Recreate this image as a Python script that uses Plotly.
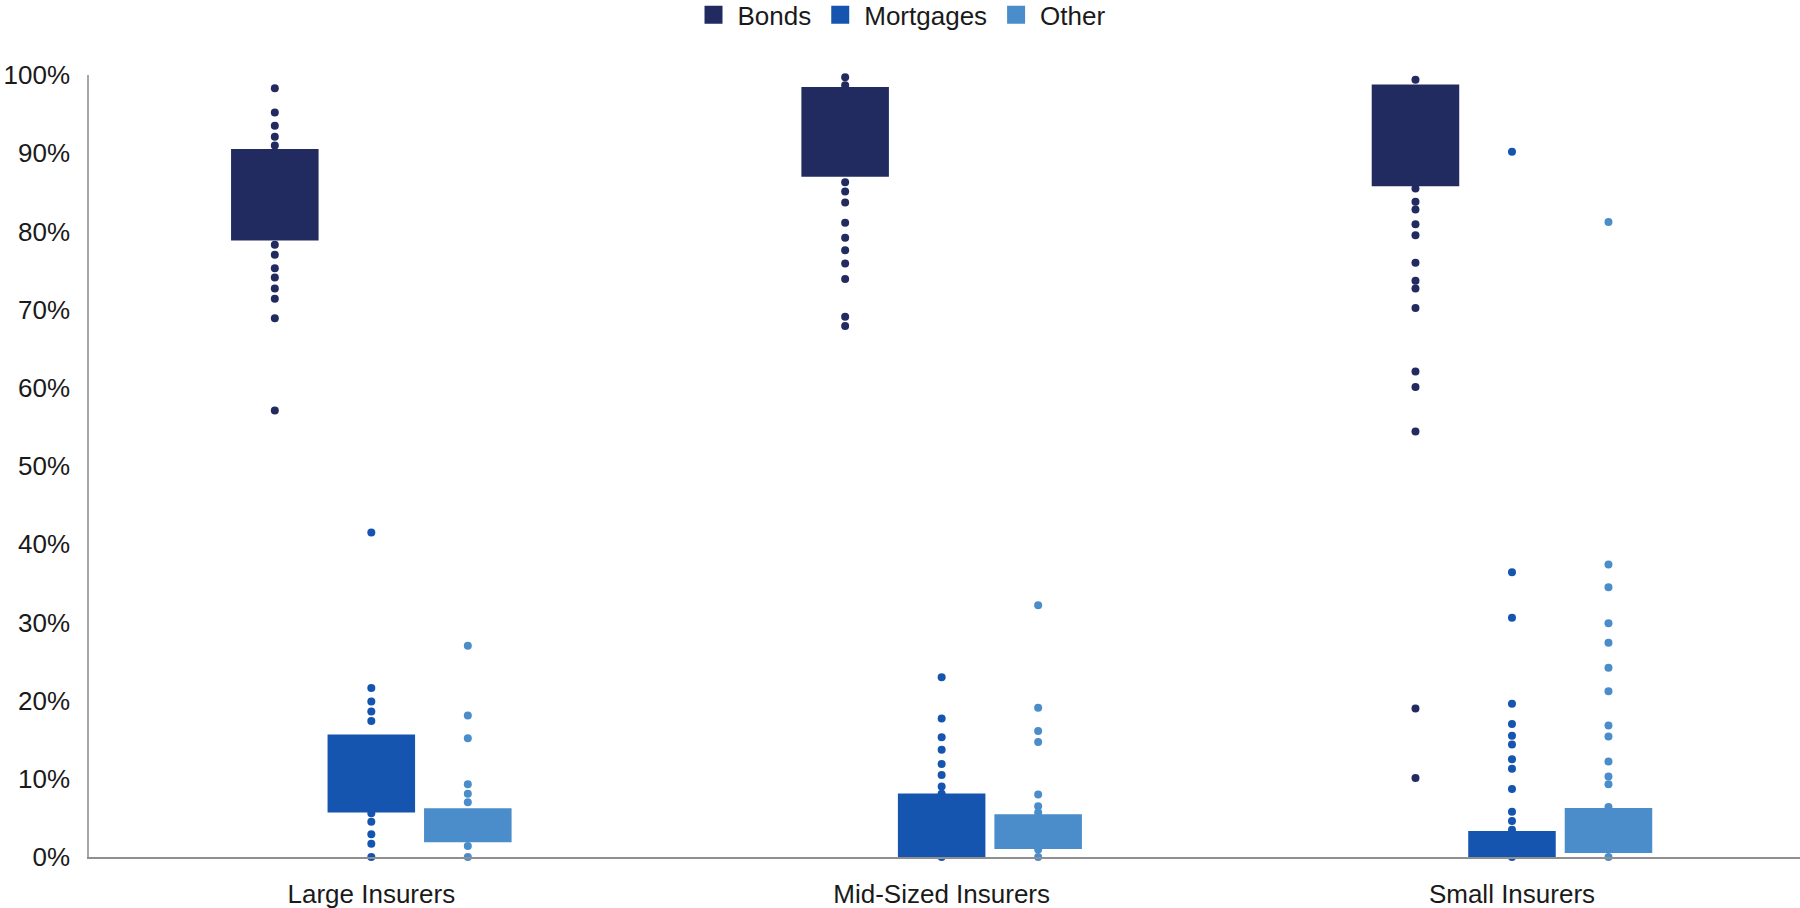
import plotly.graph_objects as go

# ---------------- data ----------------
categories = ["Large Insurers", "Mid-Sized Insurers", "Small Insurers"]
series_names = ["Bonds", "Mortgages", "Other"]

# box (interquartile) ranges per category
bonds_q1 = [0.7885, 0.8699, 0.8578]
bonds_q3 = [0.9053, 0.9847, 0.9877]
mort_q1 = [0.0568, 0.0, 0.0]
mort_q3 = [0.1566, 0.0811, 0.0334]
other_q1 = [0.0188, 0.0102, 0.0051]
other_q3 = [0.0623, 0.0546, 0.0627]

# individual insurer observations (visible dots)
bonds_large = [0.983, 0.952, 0.935, 0.921, 0.910, 0.783, 0.770, 0.753, 0.741, 0.727, 0.714, 0.689, 0.571]
bonds_mid = [0.997, 0.987, 0.863, 0.851, 0.837, 0.811, 0.792, 0.776, 0.759, 0.739, 0.691, 0.679]
bonds_small = [0.994, 0.855, 0.838, 0.828, 0.809, 0.795, 0.760, 0.737, 0.727, 0.702, 0.621, 0.601, 0.544, 0.190, 0.101]
mort_large = [0.415, 0.216, 0.199, 0.186, 0.174, 0.056, 0.045, 0.029, 0.017, 0.0]
mort_mid = [0.230, 0.177, 0.153, 0.137, 0.119, 0.105, 0.090, 0.081, 0.0]
mort_small = [0.902, 0.364, 0.306, 0.196, 0.170, 0.155, 0.144, 0.125, 0.113, 0.087, 0.058, 0.046, 0.035, 0.0]
other_large = [0.270, 0.181, 0.152, 0.093, 0.081, 0.070, 0.014, 0.0]
other_mid = [0.322, 0.191, 0.161, 0.147, 0.080, 0.065, 0.057, 0.0095, 0.0]
other_small = [0.812, 0.374, 0.345, 0.299, 0.274, 0.242, 0.212, 0.168, 0.154, 0.122, 0.103, 0.093, 0.064, 0.0]

colors = ["#222B60", "#1555B0", "#4A8DCA"]

q1s = [bonds_q1, mort_q1, other_q1]
q3s = [bonds_q3, mort_q3, other_q3]
dots = [
    [bonds_large, bonds_mid, bonds_small],
    [mort_large, mort_mid, mort_small],
    [other_large, other_mid, other_small],
]

# ---------------- layout constants ----------------
BARGAP = 0.4924
BARGROUPGAP = 0.093
SLOT = (1 - BARGAP) / len(series_names)
FONT = "Arial, Liberation Sans, sans-serif"
XRANGE = [-0.495, 2.505]
YRANGE = [0, 1]

cat_idx = list(range(len(categories)))

fig = go.Figure()

# dots (base subplot, drawn underneath the boxes)
for j, name in enumerate(series_names):
    xs, ys = [], []
    for i in cat_idx:
        for v in dots[j][i]:
            xs.append(i + (j - 1) * SLOT)
            ys.append(v)
    fig.add_trace(go.Scatter(
        x=xs, y=ys, mode="markers", name=name, showlegend=False,
        marker=dict(color=colors[j], size=8, line=dict(width=0)),
        cliponaxis=False, hoverinfo="y",
    ))

# boxes on overlaid axes so they sit above the dots
for j, name in enumerate(series_names):
    fig.add_trace(go.Bar(
        x=cat_idx, base=q1s[j],
        y=[b - a for a, b in zip(q1s[j], q3s[j])],
        name=name, showlegend=False,
        marker=dict(color=colors[j], line=dict(width=0)),
        xaxis="x2", yaxis="y2",
    ))

# legend entries
for j, name in enumerate(series_names):
    fig.add_trace(go.Scatter(
        x=[None], y=[None], mode="markers", name=name,
        marker=dict(symbol="square", color=colors[j], size=16,
                    line=dict(color=colors[j], width=2)),
    ))

fig.update_layout(
    width=1800, height=908,
    margin=dict(l=89, r=0, t=75, b=51, autoexpand=False),
    paper_bgcolor="white", plot_bgcolor="white",
    font=dict(family=FONT, size=26, color="#1a1a1a"),
    barmode="group", bargap=BARGAP, bargroupgap=BARGROUPGAP,
    legend=dict(orientation="h", x=0.474, xanchor="center", y=1.077, yanchor="middle",
                font=dict(size=26, color="#1a1a1a"), itemclick=False,
                itemwidth=38, bgcolor="rgba(0,0,0,0)"),
    xaxis=dict(range=XRANGE, tickvals=cat_idx, ticktext=categories,
               showline=True, linecolor="#8f8f8f", linewidth=2,
               ticks="outside", ticklen=13, tickcolor="rgba(0,0,0,0)",
               showgrid=False, zeroline=False, fixedrange=True),
    yaxis=dict(range=YRANGE, tick0=0, dtick=0.1, tickformat=".0%",
               showline=True, linecolor="#a6a6a6", linewidth=1.5,
               ticks="outside", ticklen=12, tickcolor="rgba(0,0,0,0)",
               showgrid=False, zeroline=False, fixedrange=True),
    xaxis2=dict(range=XRANGE, overlaying="x", anchor="y2", visible=False, fixedrange=True),
    yaxis2=dict(range=YRANGE, overlaying="y", anchor="x2", visible=False, fixedrange=True),
    showlegend=True,
)

fig.write_html(
    "out.html",
    config={"displayModeBar": False},
    post_script="document.body.style.margin='0';document.body.style.overflow='hidden';",
)
